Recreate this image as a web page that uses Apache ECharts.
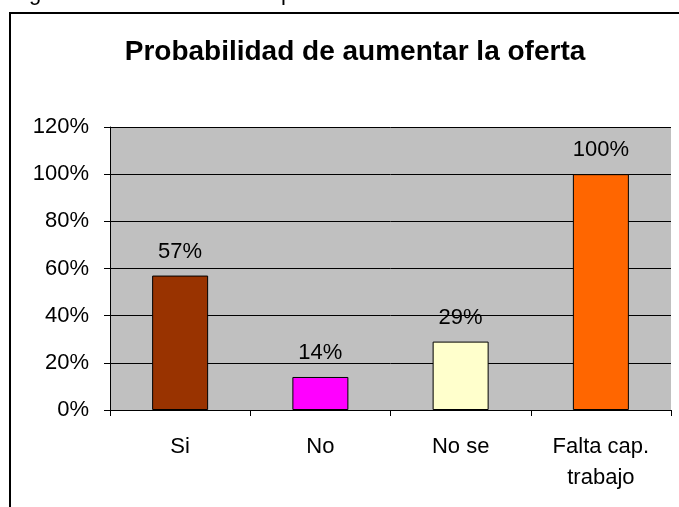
<!DOCTYPE html>
<html>
<head>
<meta charset="utf-8">
<script src="https://cdn.jsdelivr.net/npm/echarts@6/dist/echarts.min.js"></script>
<style>
  html, body { margin: 0; padding: 0; background: #fff; }
  #chart { width: 679px; height: 507px; }
</style>
</head>
<body>
<div id="chart"></div>
<script type="text/javascript">
// 数据
var categories = ['Si', 'No', 'No se', 'Falta cap.\ntrabajo']
var values = [0.57, 0.14, 0.29, 1.0]
var barColors = ['#993300', '#FF00FF', '#FFFFCC', '#FF6600']
var yTicks = [0, 0.2, 0.4, 0.6, 0.8, 1.0, 1.2]

var font = '"Liberation Sans", Arial, sans-serif'
var myChart = echarts.init(document.getElementById('chart'))

var option = {
    backgroundColor: '#ffffff',
    animation: false,
    title: {
        text: 'Probabilidad de aumentar la oferta',
        left: 350,
        textAlign: 'center',
        top: 33,
        textStyle: { fontFamily: font, fontSize: 28, fontWeight: 'bold', color: '#000' }
    },
    graphic: [
        // 外框
        {
            type: 'rect',
            shape: { x: 10, y: 13, width: 700, height: 520 },
            style: { fill: 'none', stroke: '#000', lineWidth: 2 },
            silent: true
        },
        // 上方被裁掉的标题残字
        {
            type: 'text',
            left: 29, top: -17,
            style: { text: 'g', fontFamily: font, fontSize: 22, fill: '#000' }
        },
        {
            type: 'text',
            left: 281, top: -17,
            style: { text: 'p', fontFamily: font, fontSize: 22, fill: '#000' }
        }
    ],
    grid: {
        left: 110,
        right: 8,
        top: 127,
        bottom: 97,
        show: true,
        backgroundColor: '#C0C0C0',
        borderWidth: 0
    },
    xAxis: {
        type: 'category',
        data: categories,
        axisLine: { show: true, lineStyle: { color: '#000', width: 1 } },
        axisTick: { show: true, length: 6, lineStyle: { color: '#000' } },
        axisLabel: {
            fontFamily: font,
            fontSize: 22,
            color: '#000',
            margin: 21,
            lineHeight: 31
        }
    },
    yAxis: {
        type: 'value',
        min: 0,
        max: 1.2,
        interval: 0.2,
        axisLine: { show: true, lineStyle: { color: '#000', width: 1 } },
        axisTick: { show: true, length: 6, lineStyle: { color: '#000' } },
        splitLine: { show: true, lineStyle: { color: '#000', width: 1 } },
        axisLabel: {
            fontFamily: font,
            fontSize: 22,
            color: '#000',
            margin: 21,
            formatter: function (v) { return Math.round(v * 100) + '%' }
        }
    },
    series: [
        {
            type: 'bar',
            barWidth: 56,
            data: values.map(function (v, i) {
                return { value: v, itemStyle: { color: barColors[i] } }
            }),
            itemStyle: { borderColor: '#000', borderWidth: 1 },
            label: {
                show: true,
                position: 'top',
                distance: 13,
                fontFamily: font,
                fontSize: 22,
                color: '#000',
                formatter: function (p) { return Math.round(p.value * 100) + '%' }
            }
        }
    ]
}

myChart.setOption(option)
window.addEventListener('resize', () => {
    myChart.resize()
})
</script>
</body>
</html>
